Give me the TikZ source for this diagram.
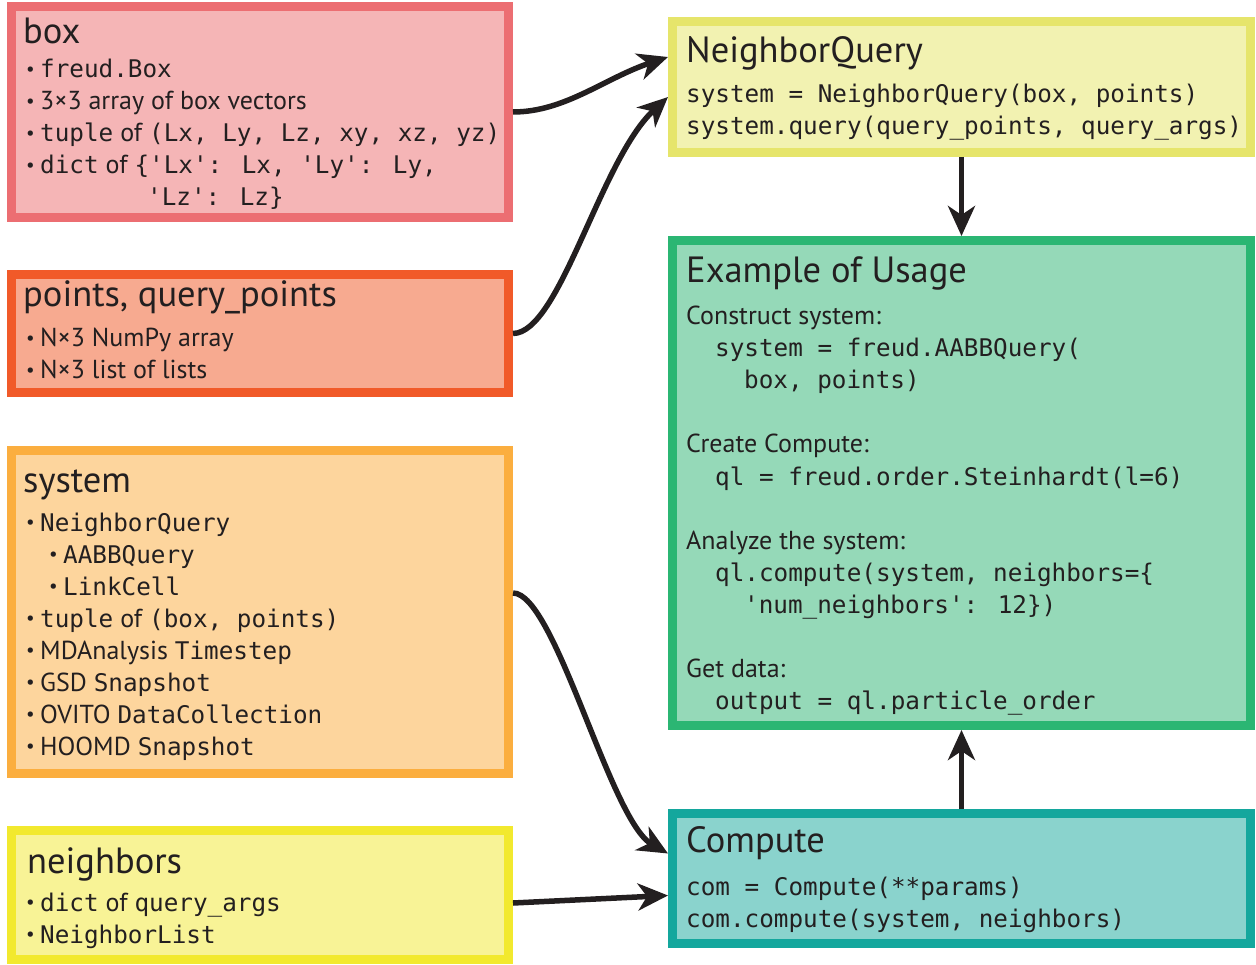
\documentclass[tikz,border=0pt]{standalone}
\usepackage{fontspec}
\usetikzlibrary{arrows.meta}
\newfontfamily\sfm{PT Sans}
\newfontfamily\cf{DejaVu Sans Mono}
\definecolor{ink}{HTML}{231F20}
\definecolor{boxD}{HTML}{EC6E72}\definecolor{boxF}{HTML}{F5B5B6}
\definecolor{ptsD}{HTML}{F15A29}\definecolor{ptsF}{HTML}{F7AA90}
\definecolor{sysD}{HTML}{FBAE3F}\definecolor{sysF}{HTML}{FDD59D}
\definecolor{nbD}{HTML}{F2E92E}\definecolor{nbF}{HTML}{F8F396}
\definecolor{nqD}{HTML}{E6E56B}\definecolor{nqF}{HTML}{F2F2B1}
\definecolor{exD}{HTML}{2BB673}\definecolor{exF}{HTML}{95D9B8}
\definecolor{cpD}{HTML}{14A79D}\definecolor{cpF}{HTML}{8AD3CD}
\newcommand\bul{\makebox[15pt][l]{\hspace{1pt}\raisebox{2.5pt}{\sfm\fontsize{19}{20}\selectfont •}}}
\newcommand\cfs{\cf\fontsize{24.3}{28}\selectfont}
\tikzset{
  panel/.style={rectangle, line width=9pt, inner sep=0pt},
  ttl/.style={anchor=base west, inner sep=0pt, text=ink, font=\sfm\fontsize{36.5}{40}\selectfont},
  txt/.style={anchor=base west, inner sep=0pt, text=ink, font=\sfm\fontsize{26}{30}\selectfont},
  code/.style={anchor=base west, inner sep=0pt, text=ink, font=\cfs},
  conn/.style={line width=5.5pt, draw=ink, -{Stealth[length=30pt,width=27pt,inset=9pt]}}
}
\begin{document}
\begin{tikzpicture}[x=1pt,y=-1pt]
\useasboundingbox (0,0) rectangle (1256,965);
% panels
\node[panel, draw=boxD, fill=boxF, minimum width=497pt, minimum height=211pt] (box) at (260,112) {};
\node[panel, draw=ptsD, fill=ptsF, minimum width=497pt, minimum height=118pt] (pts) at (260,333.5) {};
\node[panel, draw=sysD, fill=sysF, minimum width=497pt, minimum height=323pt] (sys) at (260,612) {};
\node[panel, draw=nbD, fill=nbF, minimum width=497pt, minimum height=129pt] (nb) at (260,895) {};
\node[panel, draw=nqD, fill=nqF, minimum width=578pt, minimum height=131pt] (nq) at (961.5,87) {};
\node[panel, draw=exD, fill=exF, minimum width=578pt, minimum height=485pt] (ex) at (961.5,483) {};
\node[panel, draw=cpD, fill=cpF, minimum width=578pt, minimum height=130pt] (cp) at (961.5,878.5) {};
% box
\node[ttl] (box-t) at (23,44) {box};
\node[txt] (box-1) at (25,78) {\bul{\cfs freud.Box}};
\node[txt] (box-2) at (25,110) {\bul 3×3 array of box vectors};
\node[txt] (box-3) at (25,142) {\bul{\cfs tuple} of {\cfs (Lx, Ly, Lz, xy, xz, yz)}};
\node[txt] (box-4) at (25,174) {\bul{\cfs dict} of {\cfs \{'Lx': Lx, 'Ly': Ly,}};
\node[code] (box-5) at (147,206) {'Lz': Lz\}};
% points
\node[ttl] (pts-t) at (23,307) {points, query\_points};
\node[txt] (pts-1) at (25,347) {\bul N×3 NumPy array};
\node[txt] (pts-2) at (25,379) {\bul N×3 list of lists};
% system
\node[ttl] (sys-t) at (23,493) {system};
\node[txt] (sys-1) at (25,531) {\bul{\cfs NeighborQuery}};
\node[txt] (sys-2) at (48,563) {\bul{\cfs AABBQuery}};
\node[txt] (sys-3) at (48,595) {\bul{\cfs LinkCell}};
\node[txt] (sys-4) at (25,627) {\bul{\cfs tuple} of {\cfs (box, points)}};
\node[txt] (sys-5) at (25,659) {\bul MDAnalysis {\cfs Timestep}};
\node[txt] (sys-6) at (25,691) {\bul GSD {\cfs Snapshot}};
\node[txt] (sys-7) at (25,723) {\bul OVITO {\cfs DataCollection}};
\node[txt] (sys-8) at (25,755) {\bul HOOMD {\cfs Snapshot}};
% neighbors
\node[ttl] (nb-t) at (27,873) {neighbors};
\node[txt] (nb-1) at (25,911) {\bul{\cfs dict} of {\cfs query\_args}};
\node[txt] (nb-2) at (25,943) {\bul{\cfs NeighborList}};
% NeighborQuery
\node[ttl] (nq-t) at (686,63) {NeighborQuery};
\node[code] (nq-1) at (686,103) {system = NeighborQuery(box, points)};
\node[code] (nq-2) at (686,135) {system.query(query\_points, query\_args)};
% Example
\node[ttl] (ex-t) at (686,283) {Example of Usage};
\node[txt] (ex-1) at (686,325) {Construct system:};
\node[code] (ex-2) at (715,357) {system = freud.AABBQuery(};
\node[code] (ex-3) at (744,389) {box, points)};
\node[txt] (ex-4) at (686,453) {Create Compute:};
\node[code] (ex-5) at (715,485) {ql = freud.order.Steinhardt(l=6)};
\node[txt] (ex-6) at (686,549) {Analyze the system:};
\node[code] (ex-7) at (715,581) {ql.compute(system, neighbors=\{};
\node[code] (ex-8) at (744,613) {'num\_neighbors': 12\})};
\node[txt] (ex-9) at (686,677) {Get data:};
\node[code] (ex-10) at (715,709) {output = ql.particle\_order};
% Compute
\node[ttl] (cp-t) at (686,852) {Compute};
\node[code] (cp-1) at (686,895) {com = Compute(**params)};
\node[code] (cp-2) at (686,927) {com.compute(system, neighbors)};
% connectors
\draw[conn] (box.east) .. controls (565,112) and (605,78) .. ([yshift=-40pt]nq.north west);
\draw[conn] (pts.east) .. controls (560,333) and (600,160) .. ([yshift=-10pt]nq.west);
\draw[conn] ([yshift=-147pt]sys.north east) .. controls (555,593) and (610,820) .. ([yshift=25pt]cp.west);
\draw[conn] ([yshift=-8pt]nb.east) -- ([yshift=-17pt]cp.west);
\draw[conn] (nq.south) -- (ex.north);
\draw[conn] (cp.north) -- (ex.south);
\end{tikzpicture}
\end{document}
